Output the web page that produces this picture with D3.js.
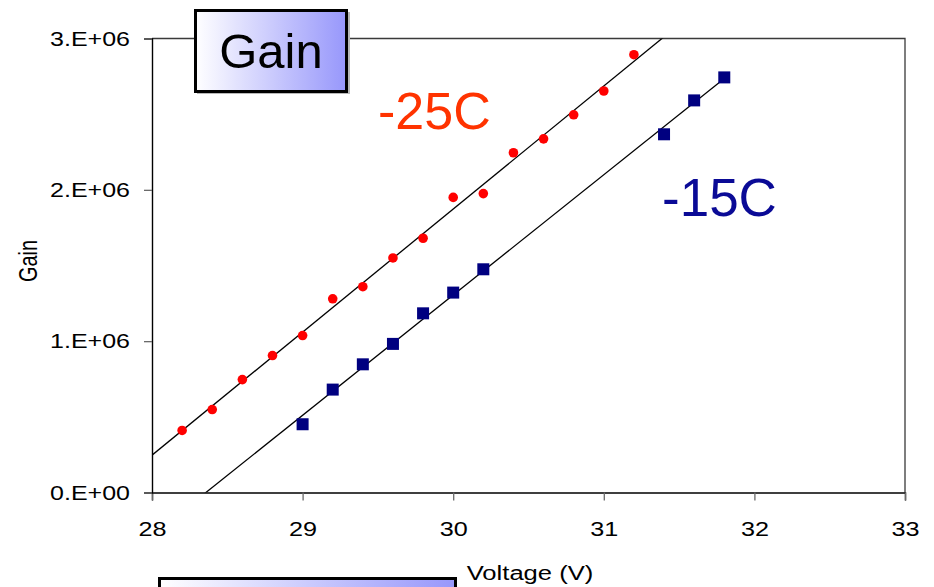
<!DOCTYPE html>
<html>
<head>
<meta charset="utf-8">
<script src="https://cdn.jsdelivr.net/npm/d3@7"></script>
<style>
  body { margin: 0; background: #fff; }
  text { font-family: "Liberation Sans", Arial, sans-serif; }
</style>
</head>
<body>
<div id="chart"></div>
<script>
// -25C points
var volt25 = [28.2, 28.4, 28.6, 28.8, 29.0, 29.2, 29.4, 29.6, 29.8, 30.0, 30.2, 30.4, 30.6, 30.8, 31.0, 31.2];
var gain25 = [410000, 548000, 746000, 905000, 1037000, 1280000, 1360000, 1550000, 1680000, 1950000, 1975000, 2245000, 2337000, 2496000, 2653000, 2893000];
// -15C points
var volt15 = [29.0, 29.2, 29.4, 29.6, 29.8, 30.0, 30.2, 31.4, 31.6, 31.8];
var gain15 = [451000, 680000, 847000, 982000, 1184000, 1321000, 1475000, 2367000, 2591000, 2743000];

var xTicks = [28, 29, 30, 31, 32, 33];
var yTicks = [0, 1000000, 2000000, 3000000];
var yTickLabels = ["0.E+00", "1.E+06", "2.E+06", "3.E+06"];

var width = 934, height = 587;
var plotLeft = 152, plotRight = 905, plotTop = 38.5, plotBottom = 492.5;

var svg = d3.select("#chart").append("svg")
  .attr("width", width)
  .attr("height", height);

var defs = svg.append("defs");
var grad = defs.append("linearGradient").attr("id", "boxGrad");
grad.append("stop").attr("offset", "0%").attr("stop-color", "#ffffff");
grad.append("stop").attr("offset", "100%").attr("stop-color", "#9797fb");

defs.append("clipPath").attr("id", "plotClip")
  .append("rect")
  .attr("x", plotLeft).attr("y", plotTop)
  .attr("width", plotRight - plotLeft).attr("height", plotBottom - plotTop);

var x = d3.scaleLinear().domain([28, 33]).range([plotLeft, plotRight]);
var y = d3.scaleLinear().domain([0, 3000000]).range([plotBottom, plotTop]);

// frame top / right
svg.append("path")
  .attr("d", "M" + plotLeft + "," + plotTop + "H" + plotRight + "V" + plotBottom)
  .attr("fill", "none")
  .attr("stroke", "#3a3a3a")
  .attr("stroke-width", 1.3);

// axes
var xAxis = svg.append("g")
  .attr("transform", "translate(0," + plotBottom + ")")
  .call(d3.axisBottom(x).tickValues(xTicks).tickSize(8).tickPadding(21).tickFormat(d3.format("d")));
var yAxis = svg.append("g")
  .attr("transform", "translate(" + plotLeft + ",0)")
  .call(d3.axisLeft(y).tickValues(yTicks).tickSize(8).tickPadding(14)
    .tickFormat(function (d, i) { return yTickLabels[i]; }));

[xAxis, yAxis].forEach(function (a) {
  a.select(".domain").attr("stroke", "#000").attr("stroke-width", 1.4);
  a.selectAll(".tick line").attr("stroke", "#6a6a6a").attr("stroke-width", 1.3);
  a.selectAll("text")
    .attr("font-family", "Liberation Sans, Arial, sans-serif")
    .attr("font-size", 21)
    .attr("fill", "#000");
});
xAxis.selectAll(".tick text").attr("transform", "scale(1.2,1)")
  .attr("x", 0);
yAxis.selectAll(".tick text").attr("transform", "scale(1.19,1)")
  .attr("x", -18.5);

// trend lines (least squares)
function fit(xs, ys) {
  var mx = d3.mean(xs), my = d3.mean(ys);
  var sxy = d3.sum(xs, function (v, i) { return (v - mx) * (ys[i] - my); });
  var sxx = d3.sum(xs, function (v) { return (v - mx) * (v - mx); });
  var b = sxy / sxx;
  return function (v) { return my + b * (v - mx); };
}
var f25 = fit(volt25, gain25);
var f15 = fit(volt15, gain15);
var lineGen = d3.line().x(function (d) { return x(d[0]); }).y(function (d) { return y(d[1]); });
var plot = svg.append("g").attr("clip-path", "url(#plotClip)");
[f25, f15].forEach(function (f) {
  plot.append("path")
    .attr("d", lineGen([[28, f(28)], [31.8, f(31.8)]]))
    .attr("fill", "none")
    .attr("stroke", "#000")
    .attr("stroke-width", 1.3);
});

// points
svg.append("g").selectAll("circle")
  .data(volt25)
  .enter().append("circle")
  .attr("cx", function (d) { return x(d); })
  .attr("cy", function (d, i) { return y(gain25[i]); })
  .attr("r", 4.8)
  .attr("fill", "#ff0000");

svg.append("g").selectAll("rect")
  .data(volt15)
  .enter().append("rect")
  .attr("x", function (d) { return x(d) - 6; })
  .attr("y", function (d, i) { return y(gain15[i]) - 6; })
  .attr("width", 12)
  .attr("height", 12)
  .attr("fill", "#000080");

// series labels
svg.append("text").attr("x", 378).attr("y", 129)
  .attr("font-size", 52).attr("fill", "#ff3300").text("-25C");
svg.append("text").attr("x", 662).attr("y", 216)
  .attr("font-size", 53).attr("fill", "#0a0a96").text("-15C");

// axis titles
svg.append("text")
  .attr("transform", "translate(37,261) scale(1.25,1) rotate(-90)")
  .attr("text-anchor", "middle")
  .attr("font-size", 20)
  .text("Gain");
svg.append("text")
  .attr("transform", "translate(530,580) scale(1.22,1)")
  .attr("text-anchor", "middle")
  .attr("font-size", 21)
  .text("Voltage (V)");

// title box
svg.append("rect").attr("x", 197).attr("y", 12).attr("width", 153).attr("height", 82)
  .attr("fill", "#b8b8b8");
svg.append("rect").attr("x", 195.5).attr("y", 10.5).attr("width", 151).attr("height", 81)
  .attr("fill", "url(#boxGrad)")
  .attr("stroke", "#000").attr("stroke-width", 3);
svg.append("text").attr("x", 271).attr("y", 68)
  .attr("text-anchor", "middle")
  .attr("font-size", 49).attr("fill", "#000").text("Gain");

// bottom box (cut off)
svg.append("rect").attr("x", 159.5).attr("y", 578.5).attr("width", 296).attr("height", 30)
  .attr("fill", "url(#boxGrad)")
  .attr("stroke", "#000").attr("stroke-width", 3);
</script>
</body>
</html>
